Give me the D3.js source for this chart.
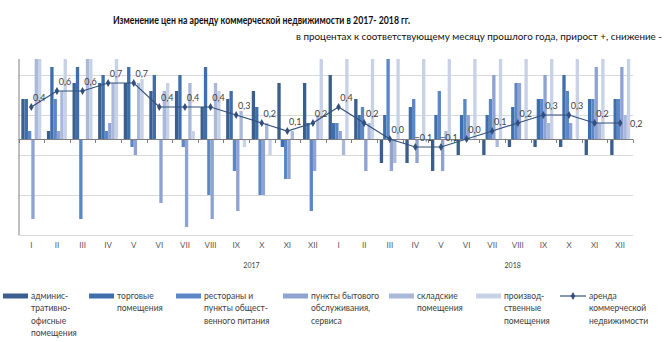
<!DOCTYPE html>
<html><head><meta charset="utf-8">
<script src="https://cdn.jsdelivr.net/npm/d3@7"></script>
<style>
body{margin:0;background:#fff}
svg{display:block}
text{font-family:Lato,"Liberation Sans",sans-serif}
</style>
</head><body>
<svg id="c" width="670" height="342"></svg>
<script>
// ---- data ----
const months = ["I","II","III","IV","V","VI","VII","VIII","IX","X","XI","XII"];
const years = ["2017","2018"];
const office      = [1.0,0.2,1.4,1.4,1.4,1.2,1.2,0.8,1.0,1.2,1.4,1.4, 1.6,1.0,-0.6,-0.6,-0.8,-0.4,-0.4,-0.2,-0.2,-0.2,-0.4,-0.4];
const retail      = [1.0,1.8,1.8,1.6,1.8,1.6,1.6,1.8,1.2,0.8,-0.2,0.4, 0.4,0.6,0.6,0.8,0.6,0.6,0.6,0.8,1.0,1.6,1.0,1.0];
const restaurants = [0.2,1.0,-2.0,0.2,-0.2,0,-0.2,-1.4,-0.8,-1.4,-1.0,-1.8, 0.4,0.8,2.6,1.0,1.2,1.0,1.0,1.4,1.0,1.2,1.0,1.0];
const services    = [-2.0,0.2,0,0.4,-0.4,-1.6,-2.2,-2.0,-1.8,-1.4,-1.0,-0.8, 0.2,-0.8,-0.8,-0.6,-0.8,0.6,1.6,1.4,1.6,0.4,1.8,1.8];
const warehouses  = [2.6,1.2,2.6,1.4,1.4,1.2,1.4,1.4,0.7,0.4,0.2,0.6, -0.4,0.4,-0.6,0,0.2,0,-0.2,0,0.4,0,0.4,0.6];
const industrial  = [2.6,2.6,2.6,2.6,1.5,1.4,0.2,1.2,-0.2,-0.4,0,2.6, 2.6,2.6,2.6,2.6,2.6,2.6,2.6,2.6,2.6,2.6,2.6,2.6];
const total       = [0.4,0.6,0.6,0.7,0.7,0.4,0.4,0.4,0.3,0.2,0.1,0.2, 0.4,0.2,0.0,-0.1,-0.1,0.0,0.1,0.2,0.3,0.3,0.2,0.2];
const seriesLabels = [
  ["админис-","тративно-","офисные","помещения"],
  ["торговые","помещения"],
  ["рестораны и","пункты общест-","венного питания"],
  ["пункты бытового","обслуживания,","сервиса"],
  ["складские","помещения"],
  ["производ-","ственные","помещения"]
];
const lineLabel = ["аренда","коммерческой","недвижимости"];
const titleText = "Изменение цен на аренду коммерческой  недвижимости  в 2017- 2018 гг.";
const subtitleText = "в процентах к соответствующему месяцу прошлого года, прирост +, снижение -";

// ---- build ----
const series = [office, retail, restaurants, services, warehouses, industrial];
const colors = ["#3a5f8e","#3f6ead","#5b87c7","#8ea3d1","#aab8d9","#c8d2e7"];
const lineColor = "#33507c";
const cats = [];
years.forEach(y => months.forEach(m => cats.push({year:y, month:m})));
const idx = d3.range(cats.length);

const svg = d3.select("#c");
const L = 18.5, R = 633, T = 59, B = 235;

const x0 = d3.scaleBand().domain(idx).range([L, R]).padding(0);
const bw = x0.bandwidth();
const x1 = d3.scaleBand().domain(d3.range(series.length)).range([bw*0.11, bw*0.89]).padding(0);
const yBar = d3.scaleLinear().domain([-2.4, 2.0]).range([B, T]);
const yLine = d3.scaleLinear().domain([-1.2, 1.0]).range([B, T]);
const xc = d3.scaleLinear().domain([0, cats.length]).range([L, R]);

// title
svg.append("text").attr("x", 113).attr("y", 24).attr("font-size", 12).attr("font-weight", "bold")
  .attr("fill", "#111").attr("textLength", 297).attr("lengthAdjust", "spacingAndGlyphs").text(titleText);
svg.append("text").attr("x", 296).attr("y", 40).attr("font-size", 8.5)
  .attr("fill", "#111").attr("textLength", 366).attr("lengthAdjust", "spacingAndGlyphs").text(subtitleText);

// gridlines
const gridVals = d3.range(-2.4, 2.0, 1.0);
svg.append("g").selectAll("line").data(gridVals).join("line")
  .attr("x1", L).attr("x2", R).attr("y1", d => Math.round(yBar(d))+0.5).attr("y2", d => Math.round(yBar(d))+0.5)
  .attr("stroke", "#d9d9d9").attr("stroke-width", 1);

// clip
svg.append("clipPath").attr("id", "plot").append("rect").attr("x", L).attr("y", T).attr("width", R-L).attr("height", B-T);

// bars
const gBars = svg.append("g").attr("clip-path", "url(#plot)");
series.forEach((s, j) => {
  gBars.append("g").selectAll("rect").data(s).join("rect")
    .attr("x", (d, i) => x0(i) + x1(j))
    .attr("width", x1.bandwidth())
    .attr("y", d => yBar(Math.max(0, d)))
    .attr("height", d => Math.abs(yBar(d) - yBar(0)))
    .attr("fill", colors[j]);
});

// axes
svg.append("line").attr("x1", L+0.5).attr("x2", L+0.5).attr("y1", T).attr("y2", B).attr("stroke", "#7f7f7f");
const y0 = Math.round(yBar(0)) + 0.5;
svg.append("line").attr("x1", L).attr("x2", R).attr("y1", y0).attr("y2", y0).attr("stroke", "#7f7f7f");
svg.append("g").selectAll("line").data(d3.range(cats.length + 1)).join("line")
  .attr("x1", d => Math.round(xc(d))+0.5).attr("x2", d => Math.round(xc(d))+0.5)
  .attr("y1", y0).attr("y2", y0 + 3.5).attr("stroke", "#7f7f7f");

// category labels
const ax = svg.append("g").attr("transform", `translate(0,${B})`)
  .call(d3.axisBottom(x0).tickSize(0).tickPadding(7).tickFormat(i => cats[i].month));
ax.select(".domain").remove();
ax.selectAll("text").attr("font-size", 8).attr("fill", "#595959").style("font-family", "Lato,'Liberation Sans',sans-serif");

// year labels
svg.append("text").attr("x", xc(9.1)).attr("y", 268).attr("text-anchor", "middle").attr("font-size", 7).attr("fill", "#404040").text(years[0]);
svg.append("text").attr("x", xc(19.3)).attr("y", 268).attr("text-anchor", "middle").attr("font-size", 7).attr("fill", "#404040").text(years[1]);

// line
const cx = i => x0(i) + bw/2;
const line = d3.line().x((d, i) => cx(i)).y(d => yLine(d));
svg.append("path").datum(total).attr("d", line).attr("fill", "none").attr("stroke", lineColor).attr("stroke-width", 1.2);
const diamond = d3.symbol().type(d3.symbolDiamond).size(18);
svg.append("g").selectAll("path").data(total).join("path")
  .attr("transform", (d, i) => `translate(${cx(i)},${yLine(d)})`).attr("d", diamond).attr("fill", lineColor);
const fmt = v => d3.format(".1f")(v).replace(".", ",");
svg.append("g").selectAll("text").data(total).join("text")
  .attr("x", (d, i) => cx(i) + (i === total.length - 1 ? 16 : 8))
  .attr("y", (d, i) => yLine(d) + (i === total.length - 1 ? 4 : -6))
  .attr("text-anchor", "middle").attr("font-size", 9).attr("fill", "#404040").text(fmt);

// legend
const legX = [3, 89, 176, 283, 389, 476];
const lg = svg.append("g");
seriesLabels.forEach((lines, j) => {
  lg.append("rect").attr("x", legX[j]).attr("y", 293.5).attr("width", 25).attr("height", 5).attr("fill", colors[j]);
  const t = lg.append("text").attr("x", legX[j] + 28).attr("y", 299).attr("font-size", 8.5).attr("fill", "#404040");
  lines.forEach((ln, k) => t.append("tspan").attr("x", legX[j] + 28).attr("y", 299 + k*12.3).text(ln));
});
lg.append("line").attr("x1", 560).attr("x2", 586).attr("y1", 296).attr("y2", 296).attr("stroke", lineColor).attr("stroke-width", 1.2);
lg.append("path").attr("transform", "translate(573,296)").attr("d", diamond).attr("fill", lineColor);
const lt = lg.append("text").attr("font-size", 8.5).attr("fill", "#404040");
lineLabel.forEach((ln, k) => lt.append("tspan").attr("x", 589).attr("y", 299 + k*12.3).text(ln));
</script>
</body></html>
